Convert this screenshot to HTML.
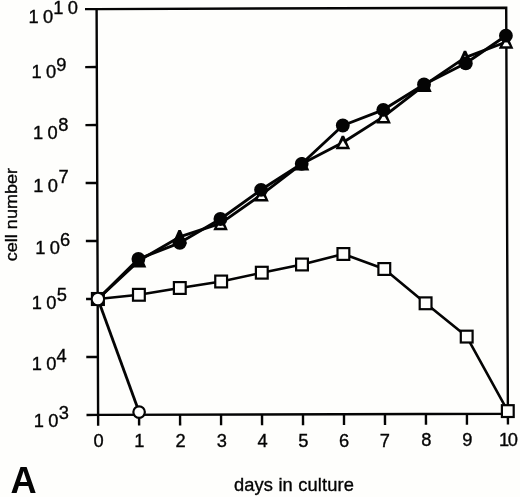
<!DOCTYPE html>
<html lang="en"><head><meta charset="utf-8"><title>Figure A - cell number vs days in culture</title>
<style>
html,body{margin:0;padding:0;background:#fefefc;}
body{width:520px;height:497px;overflow:hidden;}
svg{display:block;}
text{font-family:"Liberation Sans",Arial,Helvetica,sans-serif;fill:#040404;stroke:#040404;stroke-width:0.35px;}
.yl{font-size:18.3px;letter-spacing:4.3px;}
.xl{font-size:18.3px;text-anchor:middle;}
.ax{font-size:18.3px;}
</style></head><body>
<svg width="520" height="497" viewBox="0 0 520 497">
<rect x="0" y="0" width="520" height="497" fill="#fefefc"/>
<g fill="none" stroke="#040404" stroke-width="2.4" stroke-linecap="butt">
<polygon points="96.60,9.10 506.20,7.70 507.90,413.80 98.10,414.90" stroke-linejoin="miter"/>
<line x1="85.00" y1="9.14" x2="96.60" y2="9.10"/>
<line x1="85.21" y1="67.11" x2="96.81" y2="67.07"/>
<line x1="85.43" y1="125.08" x2="97.03" y2="125.04"/>
<line x1="85.64" y1="183.05" x2="97.24" y2="183.01"/>
<line x1="85.86" y1="241.03" x2="97.46" y2="240.99"/>
<line x1="86.07" y1="299.00" x2="97.67" y2="298.96"/>
<line x1="86.29" y1="356.97" x2="97.89" y2="356.93"/>
<line x1="86.50" y1="414.94" x2="98.10" y2="414.90"/>
<line x1="98.10" y1="414.90" x2="98.14" y2="425.70"/>
<line x1="139.08" y1="414.79" x2="139.12" y2="425.59"/>
<line x1="180.06" y1="414.68" x2="180.10" y2="425.48"/>
<line x1="221.04" y1="414.57" x2="221.08" y2="425.37"/>
<line x1="262.02" y1="414.46" x2="262.06" y2="425.26"/>
<line x1="303.00" y1="414.35" x2="303.04" y2="425.15"/>
<line x1="343.98" y1="414.24" x2="344.02" y2="425.04"/>
<line x1="384.96" y1="414.13" x2="385.00" y2="424.93"/>
<line x1="425.94" y1="414.02" x2="425.98" y2="424.82"/>
<line x1="466.92" y1="413.91" x2="466.96" y2="424.71"/>
<line x1="507.90" y1="413.80" x2="507.94" y2="424.60"/>
</g>
<g fill="none" stroke="#040404" stroke-linejoin="round">
<polyline stroke-width="2.6" points="97.90,299.00 138.90,294.80 179.80,288.00 221.15,281.50 261.80,272.70 302.00,264.50 343.40,254.00 384.30,269.00 425.60,303.30 466.70,336.60 507.80,411.10"/>
<polyline stroke-width="2.8" points="97.90,299.00 139.10,412.10"/>
<polyline stroke-width="2.9" points="97.90,299.00 139.00,260.60 179.60,236.90 220.60,223.40 261.50,194.60 302.00,163.70 342.90,142.50 383.60,116.60 424.40,85.10 465.00,57.60 506.10,42.00"/>
<polyline stroke-width="2.9" points="97.90,299.00 138.40,259.00 179.80,242.80 220.40,219.00 261.05,189.80 301.70,163.80 342.80,125.50 383.30,109.80 424.00,84.50 465.80,63.30 505.90,35.70"/>
</g>
<g fill="#fefefc" stroke="#040404" stroke-width="2.2">
<rect x="133.00" y="288.90" width="11.8" height="11.8"/>
<rect x="173.90" y="282.10" width="11.8" height="11.8"/>
<rect x="215.25" y="275.60" width="11.8" height="11.8"/>
<rect x="255.90" y="266.80" width="11.8" height="11.8"/>
<rect x="296.10" y="258.60" width="11.8" height="11.8"/>
<rect x="337.50" y="248.10" width="11.8" height="11.8"/>
<rect x="378.40" y="263.10" width="11.8" height="11.8"/>
<rect x="419.70" y="297.40" width="11.8" height="11.8"/>
<rect x="460.80" y="330.70" width="11.8" height="11.8"/>
<rect x="501.90" y="405.20" width="11.8" height="11.8"/>
</g>
<polygon fill="#040404" points="131.70,267.40 146.30,267.40 140.20,253.80 137.80,253.80"/>
<polygon fill="#040404" points="172.30,243.70 186.90,243.70 180.80,230.10 178.40,230.10"/>
<polygon fill="#040404" points="213.30,230.20 227.90,230.20 221.80,216.60 219.40,216.60"/>
<polygon fill="#fefefc" points="216.90,227.70 224.30,227.70 220.60,221.40"/>
<polygon fill="#040404" points="254.20,201.40 268.80,201.40 262.70,187.80 260.30,187.80"/>
<polygon fill="#fefefc" points="257.80,198.90 265.20,198.90 261.50,192.60"/>
<polygon fill="#040404" points="294.70,170.50 309.30,170.50 303.20,156.90 300.80,156.90"/>
<polygon fill="#040404" points="335.60,149.30 350.20,149.30 344.10,135.70 341.70,135.70"/>
<polygon fill="#fefefc" points="339.20,146.80 346.60,146.80 342.90,140.50"/>
<polygon fill="#040404" points="376.30,123.40 390.90,123.40 384.80,109.80 382.40,109.80"/>
<polygon fill="#fefefc" points="379.90,120.90 387.30,120.90 383.60,114.60"/>
<polygon fill="#040404" points="417.10,91.90 431.70,91.90 425.60,78.30 423.20,78.30"/>
<polygon fill="#040404" points="457.70,64.40 472.30,64.40 466.20,50.80 463.80,50.80"/>
<polygon fill="#fefefc" points="461.30,61.90 468.70,61.90 465.00,55.60"/>
<polygon fill="#040404" points="498.80,48.80 513.40,48.80 507.30,35.20 504.90,35.20"/>
<polygon fill="#fefefc" points="502.40,46.30 509.80,46.30 506.10,40.00"/>
<circle cx="138.40" cy="259.00" r="6.9" fill="#040404"/>
<circle cx="179.80" cy="242.80" r="6.9" fill="#040404"/>
<circle cx="220.40" cy="219.00" r="6.9" fill="#040404"/>
<circle cx="261.05" cy="189.80" r="6.9" fill="#040404"/>
<circle cx="301.70" cy="163.80" r="6.9" fill="#040404"/>
<circle cx="342.80" cy="125.50" r="6.9" fill="#040404"/>
<circle cx="383.30" cy="109.80" r="6.9" fill="#040404"/>
<circle cx="424.00" cy="84.50" r="6.9" fill="#040404"/>
<circle cx="465.80" cy="63.30" r="6.9" fill="#040404"/>
<circle cx="505.90" cy="35.70" r="6.9" fill="#040404"/>
<rect x="90.85" y="291.95" width="14.1" height="14.1" fill="#040404"/>
<circle cx="97.90" cy="299.00" r="5.2" fill="#fefefc"/>
<circle cx="139.10" cy="412.10" r="5.75" fill="#fefefc" stroke="#040404" stroke-width="2.2"/>
<text class="yl" x="28.60" y="23.15">10</text><text class="yl" x="53.30" y="14.40">10</text>
<text class="yl" x="31.60" y="78.30">10</text><text class="yl" x="56.20" y="70.50">9</text>
<text class="yl" x="33.10" y="138.80">10</text><text class="yl" x="58.30" y="130.80">8</text>
<text class="yl" x="33.20" y="191.50">10</text><text class="yl" x="58.40" y="183.40">7</text>
<text class="yl" x="35.20" y="254.30">10</text><text class="yl" x="60.00" y="246.20">6</text>
<text class="yl" x="31.80" y="309.20">10</text><text class="yl" x="56.80" y="301.20">5</text>
<text class="yl" x="31.80" y="369.75">10</text><text class="yl" x="56.40" y="361.70">4</text>
<text class="yl" x="33.80" y="426.80">10</text><text class="yl" x="58.80" y="419.40">3</text>
<text class="xl" x="98.50" y="447.20">0</text>
<text class="xl" x="139.40" y="447.10">1</text>
<text class="xl" x="180.60" y="447.00">2</text>
<text class="xl" x="221.90" y="446.90">3</text>
<text class="xl" x="262.70" y="446.80">4</text>
<text class="xl" x="303.40" y="446.70">5</text>
<text class="xl" x="344.20" y="446.60">6</text>
<text class="xl" x="384.90" y="446.50">7</text>
<text class="xl" x="426.40" y="446.40">8</text>
<text class="xl" x="467.30" y="446.30">9</text>
<text class="xl" x="499.0" y="446.20" style="text-anchor:start;letter-spacing:-1.4px">10</text>
<text class="ax" transform="translate(233.9,491.2) scale(1,0.96)" style="letter-spacing:0.16px">days in culture</text>
<text class="ax" transform="translate(17.3,261.2) scale(0.94,1) rotate(-90)" style="font-size:18.05px">cell number</text>
<text x="10.4" y="492.7" style="font-size:36.2px;font-weight:bold;stroke-width:0">A</text>
</svg></body></html>
